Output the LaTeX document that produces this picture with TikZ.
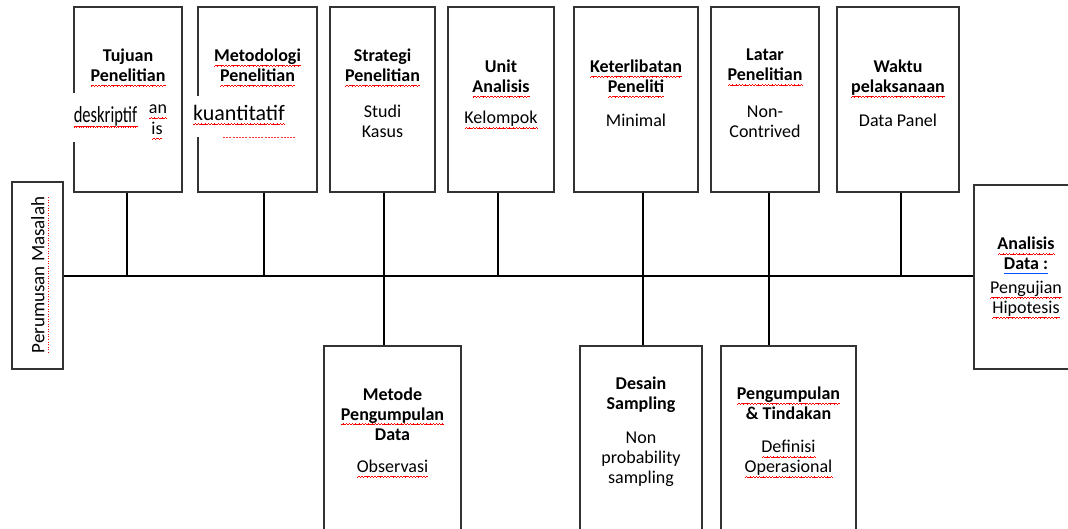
\documentclass[tikz,border=0pt]{standalone}
\usepackage{fontspec}
\setmainfont{Carlito}
\usepackage{graphicx}
\newsavebox\wvbox
\newcommand\wvunit{\hbox{\rule[-4.8pt]{0.8pt}{0.6pt}\rule[-4.3pt]{0.8pt}{0.6pt}\rule[-3.8pt]{0.8pt}{0.6pt}\rule[-4.3pt]{0.8pt}{0.6pt}}}
\newcommand\rw[1]{\leavevmode\sbox\wvbox{#1}\rlap{\textcolor{red}{\hbox to \wd\wvbox{\xleaders\wvunit\hfill}}}\usebox\wvbox}
\newcommand\bu[1]{\leavevmode\sbox\wvbox{#1}\rlap{\textcolor{blue!70!cyan}{\rule[-3.8pt]{\wd\wvbox}{0.8pt}}}\usebox\wvbox}
\newcommand\rd[1]{\leavevmode\sbox\wvbox{#1}\rlap{\textcolor{red}{\hbox to \wd\wvbox{\xleaders\hbox to 2.5pt{\hss\rule[-4.5pt]{0.9pt}{0.9pt}\hss}\hfill}}}\usebox\wvbox}
\begin{document}
\begin{tikzpicture}[x=1pt,y=-1pt,
  box/.style={draw=black!80, line width=1.5pt, inner sep=0},
  conn/.style={draw=black, line width=1.2pt},
  ttl/.style={align=center, font=\fontsize{18}{20}\selectfont\bfseries, inner sep=0},
  bdy/.style={align=center, font=\fontsize{18}{20}\selectfont, inner sep=0},
  patch/.style={fill=white, inner sep=0, draw=none}]
\useasboundingbox (0,0) rectangle (1068,529);
\clip (0,0) rectangle (1068,529);

% boxes
\node[box, minimum width=108, minimum height=185] (tujuan) at (128,99.5) {};
\node[box, minimum width=119, minimum height=185] (metodologi) at (257.5,99.5) {};
\node[box, minimum width=105, minimum height=185] (strategi) at (382.5,99.5) {};
\node[box, minimum width=106, minimum height=185] (unit) at (501,99.5) {};
\node[box, minimum width=124, minimum height=185] (keterlibatan) at (636,99.5) {};
\node[box, minimum width=108, minimum height=185] (latar) at (765,99.5) {};
\node[box, minimum width=122, minimum height=185] (waktu) at (898,99.5) {};
\node[box, minimum width=110, minimum height=184] (analisis) at (1029,277) {};
\node[box, minimum width=51, minimum height=187] (perumusan) at (37.5,275.5) {};
\node[box, minimum width=137, minimum height=214] (metode) at (392.5,453) {};
\node[box, minimum width=122, minimum height=214] (desain) at (641,453) {};
\node[box, minimum width=135, minimum height=214] (pengumpulan) at (788.5,453) {};

% texts
\node[ttl] (tujuanT) at (128,67.5) {Tujuan\\\rw{Penelitian}};
\node[ttl] (metodologiT) at (257.5,67.5) {\rw{Metodologi}\\\rw{Penelitian}};
\node[ttl] (strategiT) at (382.5,67.5) {Strategi\\\rw{Penelitian}};
\node[bdy] (strategiB) at (382.5,121) {Studi\\Kasus};
\node[ttl] (unitT) at (501,78.5) {Unit\\\rw{Analisis}};
\node[bdy] (unitB) at (501,120) {\rw{Kelompok}};
\node[ttl] (keterT) at (636,78.5) {\rw{Keterlibatan}\\\rw{Peneliti}};
\node[bdy] (keterB) at (636,120) {Minimal};
\node[ttl] (latarT) at (765,67.5) {Latar\\\rw{Penelitian}};
\node[bdy] (latarB) at (765,121.5) {Non-\\Contrived};
\node[ttl] (waktuT) at (898,78.5) {Waktu\\\rw{pelaksanaan}};
\node[bdy] (waktuB) at (898,120) {Data Panel};
\node[ttl] (analisisT) at (1026,255.5) {\rw{Analisis}\\\bu{Data :}};
\node[bdy] (analisisB) at (1026,300) {\rw{Pengujian}\\\rw{Hipotesis}};
\node[inner sep=0, rotate=90, font=\fontsize{19}{20}\selectfont] (perumusanT) at (40,275) {\rd{Perumusan Masalah}};
\node[ttl] (metodeT) at (392.5,414) {Metode\\\rw{Pengumpulan}\\Data};
\node[bdy] (metodeB) at (392.5,468.5) {\rw{Observasi}};
\node[ttl] (desainT) at (641,394.5) {Desain\\Sampling};
\node[bdy] (desainB) at (641,459) {Non\\probability\\sampling};
\node[ttl] (pengT) at (788.5,403.5) {\rw{Pengumpulan}\\\& Tindakan};
\node[bdy] (pengB) at (788.5,459) {\rw{Definisi}\\\rw{Operasional}};

% overlay fragments
\node[bdy] (fragA) at (158,112) {\rw{an}};
\node[bdy] (fragB) at (157,131) {\rw{is}};
\node[patch, minimum width=76, minimum height=49] (deskbg) at (111,117.5) {};
\node[inner sep=0] (desk) at (105.5,117) {\scalebox{0.72}[1]{\fontsize{23}{23}\selectfont\rw{deskriptif}}};
\node[patch, minimum width=104, minimum height=41] (kuanbg) at (245,116.5) {};
\node[inner sep=0] (kuan) at (239,115) {\fontsize{22}{22}\selectfont\rw{kuantitatif}};
\draw[red!80, line width=0.8pt, dash pattern=on 2pt off 1.2pt] (223,137.5) -- (295,137.5);

% connectors
\coordinate (m1) at (127,276);
\coordinate (m2) at (264,276);
\coordinate (m3) at (384,276);
\coordinate (m4) at (498,276);
\coordinate (m5) at (643,276);
\coordinate (m6) at (769,276);
\coordinate (m7) at (901,276);
\draw[conn] (perumusan.east |- m1) -- (analisis.west |- m1);
\draw[conn] (tujuan.south -| m1) -- (m1);
\draw[conn] (metodologi.south -| m2) -- (m2);
\draw[conn] (strategi.south -| m3) -- (metode.north -| m3);
\draw[conn] (unit.south -| m4) -- (m4);
\draw[conn] (keterlibatan.south -| m5) -- (desain.north -| m5);
\draw[conn] (latar.south -| m6) -- (pengumpulan.north -| m6);
\draw[conn] (waktu.south -| m7) -- (m7);
\end{tikzpicture}
\end{document}
